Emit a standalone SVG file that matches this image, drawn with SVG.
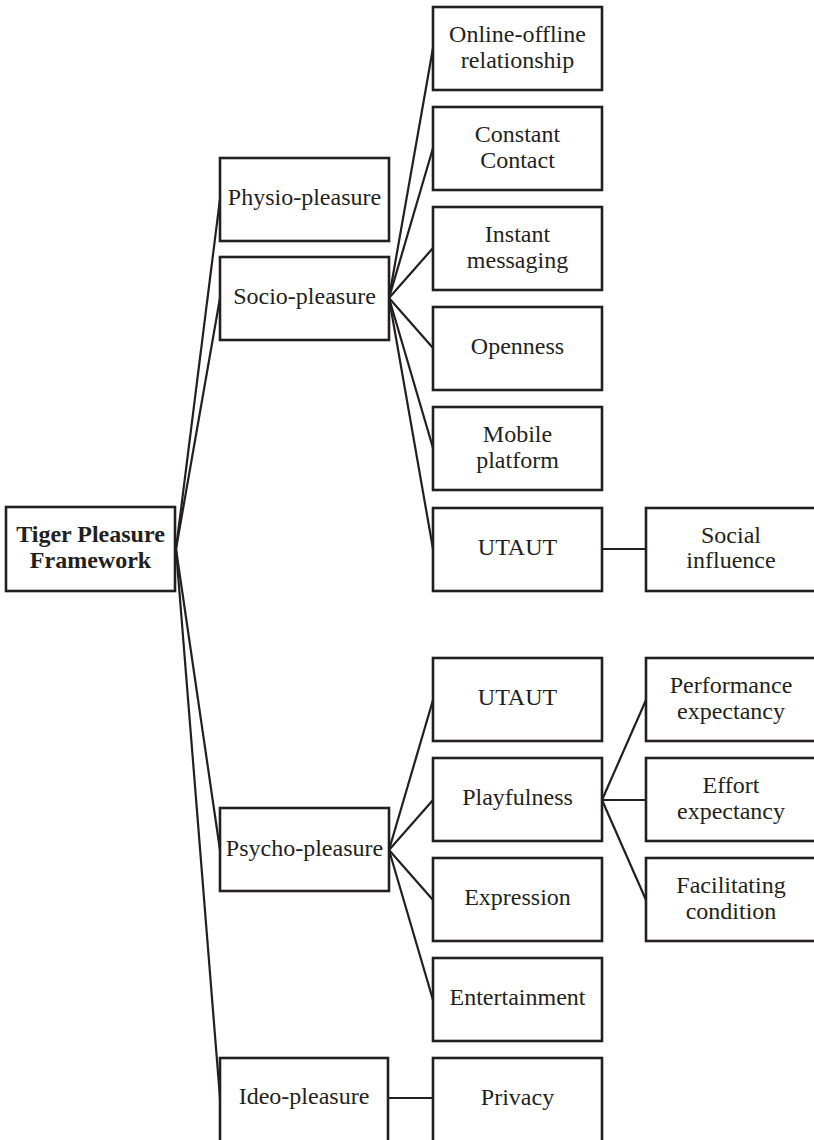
<svg xmlns="http://www.w3.org/2000/svg" width="814" height="1140" viewBox="0 0 814 1140">
<style>
rect{fill:#fff;stroke:#231f20;stroke-width:2.6}
text{font-family:"Liberation Serif","Times New Roman",serif;font-size:24px;fill:#231f20;text-anchor:middle}
.b{font-weight:bold}
#connectors line{stroke:#231f20;stroke-width:2.2}
</style>
<rect x="0" y="0" width="814" height="1140" style="stroke:none"/>
<g id="connectors">
<line x1="176" y1="549" x2="220" y2="199"/>
<line x1="176" y1="549" x2="220" y2="298"/>
<line x1="176" y1="549" x2="220" y2="850"/>
<line x1="176" y1="549" x2="220" y2="1098"/>
<line x1="389" y1="298" x2="433" y2="48"/>
<line x1="389" y1="298" x2="433" y2="148"/>
<line x1="389" y1="298" x2="433" y2="248"/>
<line x1="389" y1="298" x2="433" y2="348"/>
<line x1="389" y1="298" x2="433" y2="448"/>
<line x1="389" y1="298" x2="433" y2="549"/>
<line x1="602" y1="549" x2="646" y2="549"/>
<line x1="389" y1="850" x2="433" y2="700"/>
<line x1="389" y1="850" x2="433" y2="800"/>
<line x1="389" y1="850" x2="433" y2="900"/>
<line x1="389" y1="850" x2="433" y2="1000"/>
<line x1="602" y1="800" x2="646" y2="700"/>
<line x1="602" y1="800" x2="646" y2="800"/>
<line x1="602" y1="800" x2="646" y2="900"/>
<line x1="388" y1="1098" x2="433" y2="1098"/>
</g>
<g id="root"><rect x="6" y="507" width="169" height="84"/><text class="b" x="90.5" y="542">Tiger Pleasure</text><text class="b" x="90.5" y="568">Framework</text></g>
<g id="physio"><rect x="220" y="158" width="169" height="83"/><text x="304.5" y="205">Physio-pleasure</text></g>
<g id="socio"><rect x="220" y="257" width="169" height="83"/><text x="304.5" y="304">Socio-pleasure</text></g>
<g id="psycho"><rect x="220" y="808" width="169" height="83"/><text x="304.5" y="856">Psycho-pleasure</text></g>
<g id="ideo"><rect x="220" y="1058" width="168" height="90"/><text x="304" y="1104">Ideo-pleasure</text></g>
<g id="online"><rect x="433" y="7" width="169" height="83"/><text x="517.5" y="42">Online-offline</text><text x="517.5" y="68">relationship</text></g>
<g id="constant"><rect x="433" y="107" width="169" height="83"/><text x="517.5" y="142">Constant</text><text x="517.5" y="168">Contact</text></g>
<g id="instant"><rect x="433" y="207" width="169" height="83"/><text x="517.5" y="242">Instant</text><text x="517.5" y="268">messaging</text></g>
<g id="openness"><rect x="433" y="307" width="169" height="83"/><text x="517.5" y="354">Openness</text></g>
<g id="mobile"><rect x="433" y="407" width="169" height="83"/><text x="517.5" y="442">Mobile</text><text x="517.5" y="468">platform</text></g>
<g id="utaut1"><rect x="433" y="508" width="169" height="83"/><text x="517.5" y="555">UTAUT</text></g>
<g id="social"><rect x="646" y="508" width="170" height="83"/><text x="731" y="543">Social</text><text x="731" y="568">influence</text></g>
<g id="utaut2"><rect x="433" y="658" width="169" height="83"/><text x="517.5" y="705">UTAUT</text></g>
<g id="playfulness"><rect x="433" y="758" width="169" height="83"/><text x="517.5" y="805">Playfulness</text></g>
<g id="expression"><rect x="433" y="858" width="169" height="83"/><text x="517.5" y="905">Expression</text></g>
<g id="entertainment"><rect x="433" y="958" width="169" height="83"/><text x="517.5" y="1005">Entertainment</text></g>
<g id="privacy"><rect x="433" y="1058" width="169" height="90"/><text x="517.5" y="1105">Privacy</text></g>
<g id="performance"><rect x="646" y="658" width="170" height="83"/><text x="731" y="693">Performance</text><text x="731" y="719">expectancy</text></g>
<g id="effort"><rect x="646" y="758" width="170" height="83"/><text x="731" y="793">Effort</text><text x="731" y="819">expectancy</text></g>
<g id="facilitating"><rect x="646" y="858" width="170" height="83"/><text x="731" y="893">Facilitating</text><text x="731" y="919">condition</text></g>
</svg>
